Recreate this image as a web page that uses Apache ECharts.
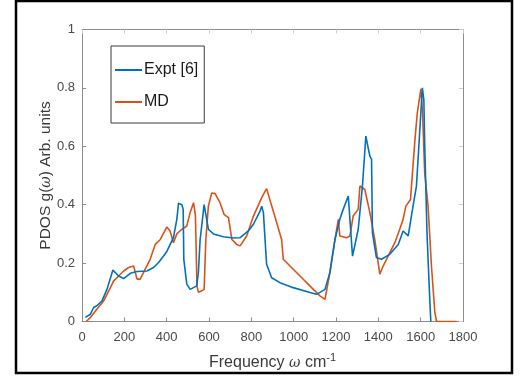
<!DOCTYPE html>
<html>
<head>
<meta charset="utf-8">
<script src="https://cdn.jsdelivr.net/npm/echarts@6/dist/echarts.min.js"></script>
<style>
html,body{margin:0;padding:0;background:#fff;}
#chart{width:524px;height:376px;}
</style>
</head>
<body>
<div id="chart"></div>
<script>
// Experimental PDOS (Expt [6])
var exptFreq = [16,40,55,70,94,118,146,173,197,228,260,307,338,362,401,432,448,456,472,478,481,495,511,542,550,558,577,597,621,668,715,747,786,810,841,849,857,872,896,935,998,1077,1108,1148,1171,1195,1218,1234,1258,1278,1305,1325,1341,1360,1368,1372,1391,1415,1454,1494,1517,1541,1564,1580,1593,1608,1615,1619,1630,1643,1648];
var exptPdos = [0.014,0.025,0.048,0.054,0.07,0.11,0.176,0.156,0.147,0.165,0.171,0.173,0.185,0.202,0.24,0.287,0.35,0.405,0.40,0.384,0.213,0.128,0.11,0.122,0.17,0.28,0.40,0.316,0.30,0.29,0.286,0.287,0.31,0.333,0.378,0.395,0.373,0.196,0.15,0.133,0.116,0.099,0.093,0.11,0.167,0.28,0.35,0.384,0.43,0.224,0.316,0.464,0.635,0.566,0.555,0.304,0.219,0.213,0.23,0.264,0.31,0.293,0.395,0.464,0.62,0.80,0.76,0.61,0.30,0.076,0];
// Molecular dynamics PDOS (MD)
var mdFreq = [20,40,70,102,134,150,173,197,220,244,248,260,275,291,322,346,370,401,416,432,448,472,495,511,527,536,543,550,566,577,585,597,613,629,652,671,692,708,731,747,778,810,849,872,920,943,951,1030,1093,1124,1148,1171,1195,1211,1218,1250,1266,1281,1305,1313,1336,1360,1383,1407,1423,1446,1478,1501,1517,1530,1552,1573,1584,1601,1609,1619,1635,1651,1667,1675,1769];
var mdPdos = [0,0.014,0.042,0.07,0.116,0.139,0.156,0.173,0.185,0.19,0.196,0.145,0.145,0.168,0.213,0.264,0.281,0.324,0.31,0.27,0.30,0.316,0.327,0.373,0.407,0.361,0.122,0.10,0.105,0.11,0.28,0.395,0.44,0.438,0.407,0.367,0.356,0.281,0.264,0.259,0.293,0.361,0.424,0.455,0.338,0.281,0.213,0.156,0.11,0.088,0.076,0.167,0.28,0.35,0.293,0.287,0.293,0.361,0.384,0.464,0.452,0.373,0.281,0.162,0.19,0.224,0.27,0.316,0.35,0.395,0.418,0.623,0.714,0.797,0.714,0.509,0.395,0.19,0.031,0,0];
var seriesNames = ['Expt [6]', 'MD'];
var xTicks = [0,200,400,600,800,1000,1200,1400,1600,1800];
var yTicks = [0,0.2,0.4,0.6,0.8,1];

function pairs(xs, ys){ return xs.map(function(x,i){ return [x, ys[i]]; }); }

var axisGray = '#8c8c8c';
var labelColor = '#4a4a4a';
var font = 'Liberation Sans, Arial, sans-serif';

var chart = echarts.init(document.getElementById('chart'), null, {renderer:'canvas'});
chart.setOption({
  backgroundColor: '#ffffff',
  animation: false,
  graphic: [{
    type: 'rect', shape: {x:16, y:1, width:496, height:372},
    style: {fill: 'none', stroke: '#000', lineWidth: 2.5}, silent: true, z: 100
  }],
  grid: {left: 82, right: 61, top: 29.5, bottom: 54, containLabel: false},
  legend: {
    data: seriesNames,
    orient: 'vertical',
    left: 111, top: 46,
    width: 93,
    padding: [16, 6, 13, 4],
    itemWidth: 27, itemHeight: 2,
    itemGap: 16,
    borderColor: '#3a3a3a', borderWidth: 1,
    backgroundColor: '#fff',
    icon: 'rect',
    textStyle: {fontFamily: font, fontSize: 16, color: '#1a1a1a', padding:[0,0,0,-3]}
  },
  xAxis: [{
    type: 'value', min: 0, max: 1800, interval: 200,
    position: 'bottom',
    name: 'Frequency {i|ω} cm{s|-1}',
    nameLocation: 'middle', nameGap: 31, nameMoveOverlap: false,
    nameTextStyle: {fontFamily: font, fontSize: 16, color: '#3a3a3a',
      rich: {i: {fontFamily: 'DejaVu Serif, serif', fontStyle: 'italic', fontSize: 14, color: '#3a3a3a'},
             s: {fontFamily: font, fontSize: 11, color: '#3a3a3a', verticalAlign: 'top', padding:[0,0,10,0]}}},
    axisLine: {lineStyle: {color: axisGray, width: 1}},
    axisTick: {inside: true, length: 4, lineStyle: {color: axisGray}},
    axisLabel: {fontFamily: font, fontSize: 13, color: labelColor, margin: 9,
      formatter: function(v){ return xTicks.indexOf(v) >= 0 ? String(v) : ''; }},
    splitLine: {show: false}
  },{
    type: 'value', min: 0, max: 1800, interval: 200, position: 'top',
    axisLine: {show: true, onZero: false, lineStyle: {color: axisGray, width: 1}},
    axisTick: {inside: true, length: 4, lineStyle: {color: '#d0d0d0'}},
    axisLabel: {show: false}, splitLine: {show: false}
  }],
  yAxis: [{
    type: 'value', min: 0, max: 1, interval: 0.2,
    position: 'left',
    name: 'PDOS g({i|ω}) Arb. units',
    nameLocation: 'middle', nameGap: 28, nameRotate: 90, nameMoveOverlap: false,
    nameTextStyle: {fontFamily: font, fontSize: 15.5, color: '#3a3a3a',
      rich: {i: {fontFamily: 'DejaVu Serif, serif', fontStyle: 'italic', fontSize: 14, color: '#3a3a3a'}}},
    axisLine: {show: true, lineStyle: {color: axisGray, width: 1}},
    axisTick: {show: true, inside: true, length: 4, lineStyle: {color: axisGray}},
    axisLabel: {fontFamily: font, fontSize: 13, color: labelColor, margin: 7,
      formatter: function(v){ var r = Math.round(v*10)/10; return yTicks.indexOf(r) >= 0 ? String(r) : ''; }},
    splitLine: {show: false}
  },{
    type: 'value', min: 0, max: 1, interval: 0.2, position: 'right',
    axisLine: {show: true, onZero: false, lineStyle: {color: axisGray, width: 1}},
    axisTick: {show: true, inside: true, length: 4, lineStyle: {color: '#d0d0d0'}},
    axisLabel: {show: false}, splitLine: {show: false}
  }],
  series: [{
    name: seriesNames[0], type: 'line', data: pairs(exptFreq, exptPdos),
    showSymbol: false, symbol: 'none', color: '#0072BD',
    lineStyle: {width: 1.6, color: '#0072BD'}, z: 3
  },{
    name: seriesNames[1], type: 'line', data: pairs(mdFreq, mdPdos),
    showSymbol: false, symbol: 'none', color: '#D95319',
    lineStyle: {width: 1.6, color: '#D95319'}, z: 2
  }]
});
</script>
</body>
</html>
